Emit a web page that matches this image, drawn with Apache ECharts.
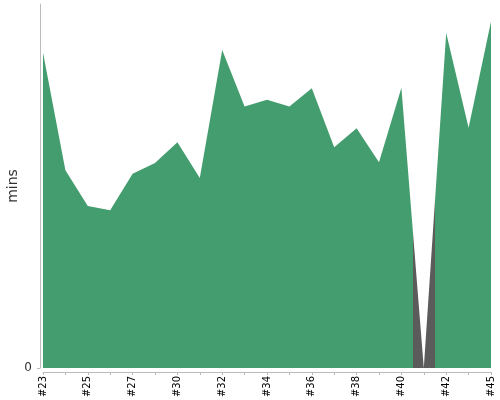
<!DOCTYPE html>
<html>
<head>
<meta charset="utf-8">
<script src="https://cdn.jsdelivr.net/npm/echarts@6/dist/echarts.min.js"></script>
<style>html,body{margin:0;padding:0;background:#fff}#c{width:500px;height:400px}</style>
</head>
<body>
<div id="c"></div>
<script>
const categories = ['#23','#24','#25','#26','#27','#28','#30','#31','#32','#33','#34','#35','#36','#37','#38','#39','#40','#41','#42','#43','#45'];
const minutes = [52.0, 32.6, 26.7, 26.0, 32.0, 33.8, 37.2, 31.3, 52.4, 43.1, 44.2, 43.1, 46.1, 36.4, 39.5, 33.9, 46.2, 0, 55.2, 39.6, 57.1];
const yTickLabels = ['0'];
const highlightIndex = 17;

const green = '#449d6e';
const gray = '#5b5b5b';

const seriesData = minutes.map(function (v, i) { return [i, v]; });

const chart = echarts.init(document.getElementById('c'), null, {renderer: 'canvas'});
chart.setOption({
  animation: false,
  textStyle: {fontFamily: 'DejaVu Sans'},
  grid: {left: 43, right: 9, top: 4, bottom: 32, containLabel: false, outerBoundsMode: 'none'},
  visualMap: {
    type: 'piecewise', show: false, dimension: 0, seriesIndex: 0,
    pieces: [
      {lt: highlightIndex - 0.5, color: green},
      {gte: highlightIndex - 0.5, lte: highlightIndex + 0.5, color: gray},
      {gt: highlightIndex + 0.5, color: green}
    ]
  },
  xAxis: {
    type: 'value', min: 0, max: categories.length - 1, interval: 1, offset: 4,
    axisLine: {onZero: false, lineStyle: {color: '#bbb', width: 1}},
    axisTick: {show: true, length: 3, lineStyle: {color: '#bbb'}},
    axisLabel: {rotate: 90, fontSize: 10, color: '#000', margin: 4, fontFamily: 'DejaVu Sans',
      showMinLabel: true, showMaxLabel: true,
      formatter: function (v) { return (v % 2 === 0) ? categories[v] : ''; }},
    splitLine: {show: false}
  },
  yAxis: {
    type: 'value', min: 0, max: 60, interval: 60, offset: 3,
    name: 'mins', nameLocation: 'middle', nameGap: 20, nameMoveOverlap: false,
    nameTextStyle: {fontSize: 14, color: '#333', fontFamily: 'DejaVu Sans'},
    axisLine: {show: true, onZero: false, lineStyle: {color: '#bbb', width: 1}},
    axisTick: {show: true, length: 3, lineStyle: {color: '#bbb'}},
    axisLabel: {showMaxLabel: false, color: '#333', fontSize: 12, margin: 8,
      formatter: function (v) { return v === 0 ? yTickLabels[0] : ''; }},
    splitLine: {show: false}
  },
  series: [{
    type: 'line', data: seriesData, showSymbol: false, symbol: 'none',
    lineStyle: {width: 0, opacity: 0},
    areaStyle: {opacity: 1}
  }]
});
</script>
</body>
</html>
